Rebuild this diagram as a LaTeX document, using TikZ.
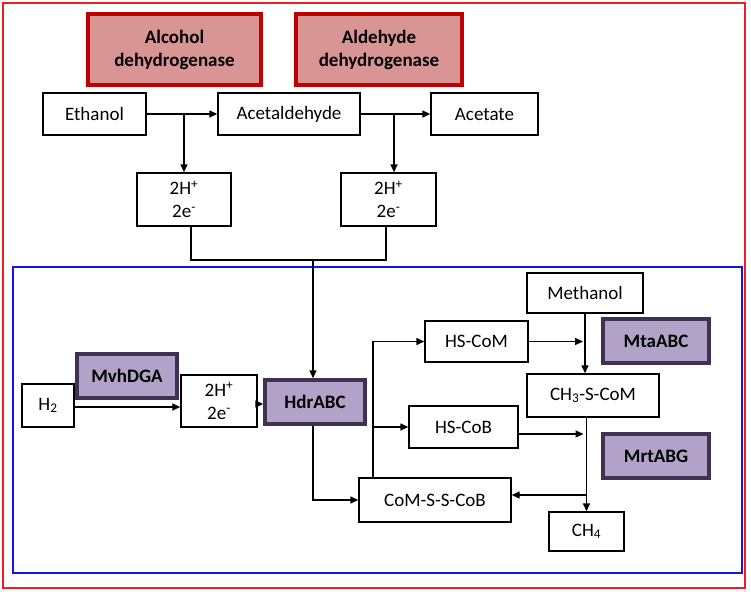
\documentclass[tikz,border=0pt]{standalone}
\usepackage{fontspec}
\setmainfont{Carlito}
\usepackage{xcolor}
\definecolor{colorFrameOut}{RGB}{238,28,36}
\definecolor{colorFrameIn}{RGB}{20,20,240}
\definecolor{colorDhFill}{RGB}{217,149,148}
\definecolor{colorDhLine}{RGB}{192,0,0}
\definecolor{colorMetFill}{RGB}{179,162,199}
\definecolor{colorMetLine}{RGB}{63,49,81}
\usepackage{tikz}
\usetikzlibrary{arrows.meta, positioning}
\tikzset{
  species/.style={draw, line width=1.4pt, fill=white, align=center, inner sep=0pt},
  dhEnzyme/.style={draw=colorDhLine, line width=3.5pt, fill=colorDhFill, align=center, inner sep=0pt, font=\fontsize{19}{23}\selectfont\bfseries},
  metEnzyme/.style={draw=colorMetLine, line width=3.5pt, fill=colorMetFill, align=center, inner sep=0pt, font=\fontsize{19}{23}\selectfont\bfseries}
}

\begin{document}
\begin{tikzpicture}[x=1pt, y=-1pt, >={Triangle[length=8pt,width=7pt]}, line width=1.4pt, font=\fontsize{19}{23}\selectfont]
\useasboundingbox (0,0) rectangle (751,591);
\draw [colorFrameOut, line width=2pt] (3,3) rectangle (745,588);
\draw [colorFrameIn, line width=2pt] (13,267) rectangle (742,573);
% ethanol oxidation
\node[dhEnzyme, minimum width=173, minimum height=71] (alcdh) at (174.5,49.5) {Alcohol\\dehydrogenase};
\node[dhEnzyme, minimum width=166, minimum height=71] (aldh) at (379,49.5) {Aldehyde\\dehydrogenase};
\node[species, minimum width=103, minimum height=42] (ethanol) at (94.5,114) {Ethanol};
\node[species, minimum width=142, minimum height=42] (acetald) at (289,114) {Acetaldehyde};
\node[species, minimum width=107, minimum height=42] (acetate) at (484.5,114) {Acetate};
\node[species, minimum width=94, minimum height=53] (hA) at (184,199.5) {2H\textsuperscript{+}\\2e\textsuperscript{-}};
\node[species, minimum width=95, minimum height=53] (hB) at (388.5,199.5) {2H\textsuperscript{+}\\2e\textsuperscript{-}};
\coordinate (jA) at (184,114);
\coordinate (jB) at (394,114);
\coordinate (merge) at (313,260);
\draw [->] (ethanol) -- (acetald);
\draw [->] (acetald) -- (acetate);
\draw [->] (jA) -- (hA);
\draw [->] (jB) -- (jB |- hB.north);
\draw ([xshift=7pt]hA.south) |- (merge) -| ([xshift=-2.5pt]hB.south);
% methanogenesis
\node[species, minimum width=52, minimum height=43] (h2) at (48,405.5) {H\textsubscript{2}};
\node[metEnzyme, minimum width=100, minimum height=44] (mvh) at (127,376) {MvhDGA};
\node[species, minimum width=76, minimum height=52] (hC) at (219,401) {2H\textsuperscript{+}\\2e\textsuperscript{-}};
\node[metEnzyme, minimum width=100, minimum height=44] (hdr) at (315,402) {HdrABC};
\node[species, minimum width=152, minimum height=44] (comss) at (435,500) {CoM-S-S-CoB};
\node[species, minimum width=103, minimum height=41] (hscom) at (476.5,341.5) {HS-CoM};
\node[species, minimum width=109, minimum height=42] (hscob) at (463.5,427) {HS-CoB};
\node[species, minimum width=116, minimum height=40] (methanol) at (585,293) {Methanol};
\node[metEnzyme, minimum width=106, minimum height=44] (mta) at (656,341) {MtaABC};
\node[species, minimum width=132, minimum height=43] (ch3) at (593,395.5) {CH\textsubscript{3}-S-CoM};
\node[metEnzyme, minimum width=106, minimum height=44] (mrt) at (656,456) {MrtABG};
\node[species, minimum width=75, minimum height=39] (ch4) at (586.5,531.5) {CH\textsubscript{4}};
\coordinate (split) at (373,427);
\coordinate (back) at (586.5,495);
\draw [->] (merge) -- (merge |- hdr.north);
\draw [->] ([yshift=-1.5pt]h2.east) -- ([yshift=-1.5pt]h2.east -| hC.west);
\draw [->] ([yshift=-3pt]hC.east) -- ([yshift=-3pt]hC.east -| hdr.west);
\draw [->] ([xshift=-2pt]hdr.south) |- (comss.west);
\draw [->] ([xshift=-62pt]comss.north) |- (hscom.west);
\draw [->] (split) -- (hscob.west);
\draw [->] (methanol.south) -- (methanol.south |- ch3.north);
\draw [->] (hscom.east) -- ([xshift=-2pt]hscom.east -| methanol.south);
\draw [->] (ch3.south -| ch4.north) -- (ch4.north);
\draw [->] ([yshift=-7pt]hscob.east) -- ([yshift=-7pt,xshift=-3pt]hscob.east -| ch4.north);
\draw [->] (back) -- (back -| comss.east);
\end{tikzpicture}
\end{document}
